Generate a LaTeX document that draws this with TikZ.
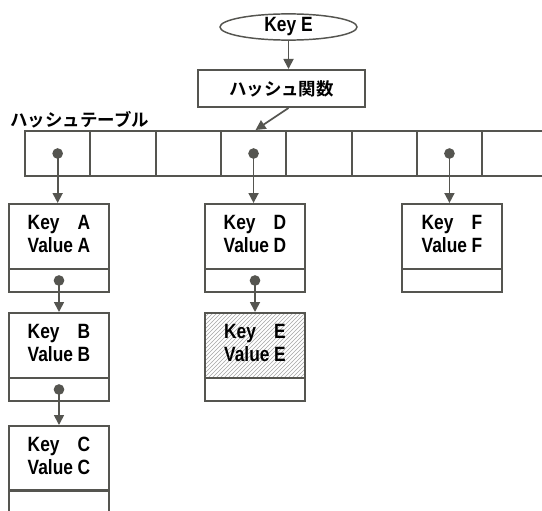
\documentclass[tikz,border=0pt]{standalone}
\usepackage{fontspec}
\usetikzlibrary{arrows.meta,patterns,shapes.geometric}
\newfontfamily\latinf{Liberation Sans Bold}[FakeStretch=0.84]
\newfontfamily\jpf{Noto Sans CJK JP Bold}
\definecolor{lc}{RGB}{85,85,80}
\newcommand\kvtext[1]{\begin{tabular}{@{}l@{\hspace{3.5pt}}l@{}}Key&#1\\Value&#1\end{tabular}}
\tikzset{
  box/.style={draw=lc, line width=1.5pt, rectangle, inner sep=0pt},
  rec/.style={box, minimum width=75pt, anchor=north west,
    font=\latinf\fontsize{15.5}{17.25}\selectfont},
  upper/.style={rec, minimum height=48.75pt},
  lower/.style={rec, minimum height=17.25pt},
  cell/.style={box, minimum width=48.975pt, minimum height=33.75pt, anchor=north west},
  arr/.style={draw=lc, line width=1.3pt, -{Triangle[width=7.5pt,length=7.5pt]}},
  dotn/.style={circle, fill=lc, inner sep=0pt, minimum size=8pt},
  jp/.style={font=\jpf\fontsize{13.1}{15}\selectfont}
}
\begin{document}
\begin{tikzpicture}[x=0.75pt,y=-0.75pt]
\useasboundingbox (0,0) rectangle (542,510);
\clip (0,0) rectangle (542,510);
% key and hash function
\node[ellipse, draw=lc, line width=1.1pt, minimum width=102.75pt, minimum height=15.75pt, inner sep=0pt,
  font=\latinf\fontsize{15.5}{17}\selectfont] (k) at (288.5,27) {Key E};
\node[box, minimum width=125.25pt, minimum height=27.75pt, jp] (h) at (281.5,88.5) {ハッシュ関数};
\draw[arr] (k.south) -- (k.south |- h.north);
% table
\node[jp, anchor=west, inner sep=0pt] (tl) at (10,120) {ハッシュテーブル};
\foreach \i in {0,...,8} \node[cell] (t\i) at ({24+65.3*\i},130) {};
\draw[arr] (k.south |- h.south) -- ([xshift=1.5pt]t3.north);
\node[dotn] (d0) at (t0.center) {};
\node[dotn] (d3) at (t3.center) {};
\node[dotn] (d6) at (t6.center) {};
% records
\node[upper] (A) at (8,203) {\kvtext{A}};
\node[lower] (An) at (8,268) {};
\node[upper] (B) at (8,312) {\kvtext{B}};
\node[lower] (Bn) at (8,377) {};
\node[upper] (C) at (8,425) {\kvtext{C}};
\node[lower] (Cn) at (8,489) {};
\node[upper] (D) at (204,203) {\kvtext{D}};
\node[lower] (Dn) at (204,268) {};
\node[upper, preaction={fill=white}, pattern=north east lines, pattern color=gray!70] (E) at (204,312) {};
\node[rec] at (E.center) [anchor=center, draw=none] (Et) {\kvtext{E}};
\node[lower] (En) at (204,377) {};
\node[upper] (F) at (401,203) {\kvtext{F}};
\node[lower] (Fn) at (401,268) {};
\node[dotn] (dA) at (An.center) {};
\node[dotn] (dB) at (Bn.center) {};
\node[dotn] (dD) at (Dn.center) {};
% connectors
\draw[arr] (d0.center) -- (d0.center |- A.north);
\draw[arr] (d3.center) -- (d3.center |- D.north);
\draw[arr] (d6.center) -- (d6.center |- F.north);
\draw[arr] (dA.center) -- (B.north);
\draw[arr] (dB.center) -- (C.north);
\draw[arr] (dD.center) -- (E.north);
\end{tikzpicture}
\end{document}
